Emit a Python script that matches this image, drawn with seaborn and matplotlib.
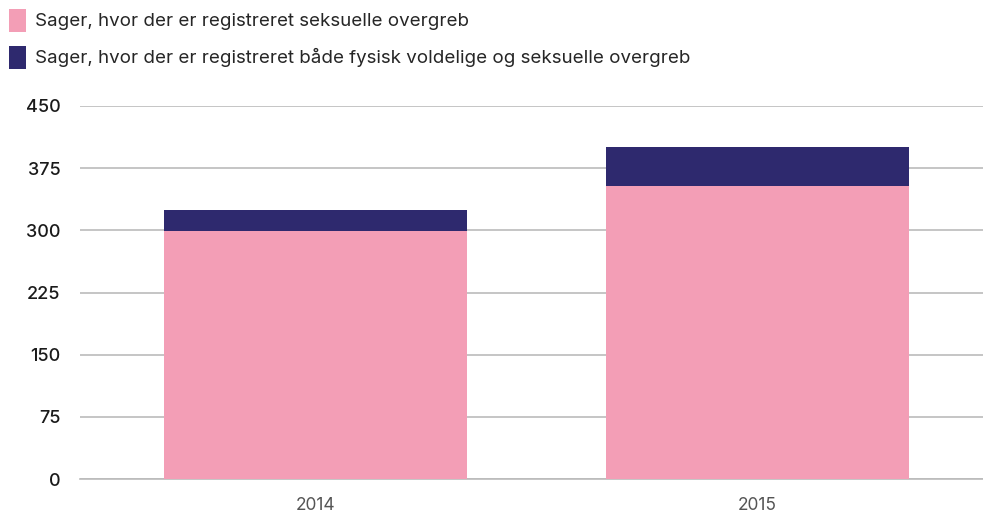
import seaborn as sns
import numpy as np
import pandas as pd
import matplotlib.pyplot as plt
from matplotlib.patches import Patch

years = ["2014", "2015"]
seksuelle = [299, 354]
begge = [25, 46]
labels = ["Sager, hvor der er registreret seksuelle overgreb",
          "Sager, hvor der er registreret både fysisk voldelige og seksuelle overgreb"]
yticks = [0, 75, 150, 225, 300, 375, 450]

pink = "#F39EB6"
navy = "#2E296E"

sns.set_style("white")
plt.rcParams['font.family'] = ['Inter', 'DejaVu Sans']

df = pd.DataFrame({"year": years, "seksuelle": seksuelle, "begge": begge})
df["total"] = df["seksuelle"] + df["begge"]

fig = plt.figure(figsize=(9.83, 5.16), dpi=100)
ax = fig.add_axes([80 / 983, 1 - 479 / 516, 1 - 80 / 983, 373 / 516])

sns.barplot(data=df, x="year", y="total", color=navy, width=0.686,
            saturation=1, linewidth=0, ax=ax, zorder=3)
sns.barplot(data=df, x="year", y="seksuelle", color=pink, width=0.686,
            saturation=1, linewidth=0, ax=ax, zorder=3)

ax.set_xlim(-0.533, 1.51)
ax.set_ylim(0, 450)
ax.set_yticks(yticks)
ax.set_yticklabels([str(t) for t in yticks], fontsize=13, color="#1a1a1a",
                   fontweight="medium")
ax.tick_params(axis="x", labelsize=12.5, labelcolor="#555555", pad=13, length=0)
ax.tick_params(axis="y", length=0, pad=14)
ax.yaxis.grid(True, color="#bbbbbb", linewidth=1.2, zorder=0)
ax.set_axisbelow(True)
ax.set_xlabel("")
ax.set_ylabel("")
for s in ["top", "right", "left"]:
    ax.spines[s].set_visible(False)
ax.spines["bottom"].set_color("#bbbbbb")
ax.spines["bottom"].set_linewidth(1.2)

handles = [Patch(facecolor=pink, edgecolor="none"),
           Patch(facecolor=navy, edgecolor="none")]
fig.legend(handles, labels, loc="upper left", bbox_to_anchor=(-0.006, 1.012),
           frameon=False, fontsize=13.5, handlelength=0.9, handleheight=1.5,
           handletextpad=0.5, labelspacing=0.75, borderaxespad=0.4)

fig.savefig("out.png", dpi=100)
